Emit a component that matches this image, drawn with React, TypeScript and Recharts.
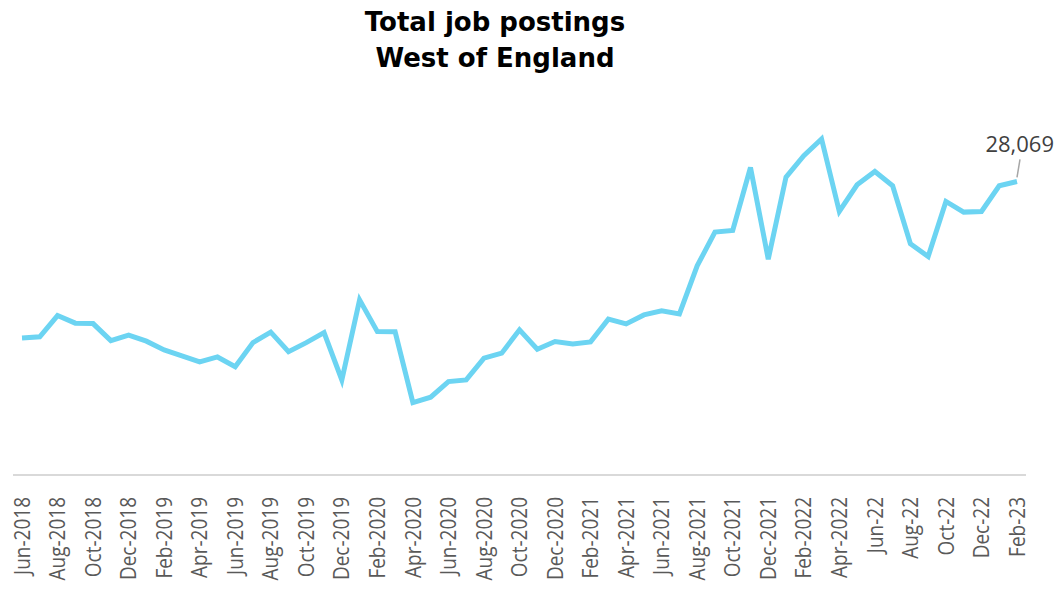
import React from "react";
import { LineChart, Line, XAxis, YAxis } from "recharts";

const months = [
  "Jun-2018", "Jul-2018", "Aug-2018", "Sep-2018", "Oct-2018", "Nov-2018", "Dec-2018",
  "Jan-2019", "Feb-2019", "Mar-2019", "Apr-2019", "May-2019", "Jun-2019", "Jul-2019",
  "Aug-2019", "Sep-2019", "Oct-2019", "Nov-2019", "Dec-2019", "Jan-2020", "Feb-2020",
  "Mar-2020", "Apr-2020", "May-2020", "Jun-2020", "Jul-2020", "Aug-2020", "Sep-2020",
  "Oct-2020", "Nov-2020", "Dec-2020", "Jan-2021", "Feb-2021", "Mar-2021", "Apr-2021",
  "May-2021", "Jun-2021", "Jul-2021", "Aug-2021", "Sep-2021", "Oct-2021", "Nov-2021",
  "Dec-2021", "Jan-2022", "Feb-2022", "Mar-2022", "Apr-2022", "May-2022", "Jun-22",
  "Jul-22", "Aug-22", "Sep-22", "Oct-22", "Nov-22", "Dec-22", "Jan-23", "Feb-23"
];

const postings = [
  13110, 13210, 15250, 14520, 14480, 12850, 13370,
  12800, 11960, 11390, 10810, 11290, 10360, 12660,
  13660, 11800, 12660, 13620, 9090, 16750, 13710,
  13690, 6920, 7440, 8930, 9090, 11170, 11650,
  13880, 12030, 12760, 12540, 12730, 14900, 14450,
  15310, 15700, 15410, 20000, 23230, 23380, 29410,
  20640, 28490, 30530, 32130, 25200, 27750, 29030,
  27660, 22110, 20890, 26160, 25140, 25200, 27660, 28069
];

const data = months.map((m, i) => ({ month: m, postings: postings[i] }));

function MonthTick(props: any) {
  const { x, y, payload } = props;
  return (
    <text
      transform={`translate(${x},${y + 14}) rotate(-90) scale(1,1.12)`}
      textAnchor="end"
      dy="0.36em"
      fill="#595959"
      fontSize={19}
      fontFamily="'Open Sans', sans-serif"
    >
      {payload.value}
    </text>
  );
}

function LastLabel(props: any) {
  const { x, y, index, value } = props;
  if (index !== postings.length - 1) return null;
  return (
    <g>
      <line x1={x} y1={y - 4} x2={x + 3} y2={y - 22} stroke="#a6a6a6" strokeWidth={1.5} />
      <text
        x={x + 37}
        y={y - 29}
        textAnchor="end"
        fill="#404040"
        fontSize={22}
        fontFamily="'Open Sans', sans-serif"
      >
        {Number(value).toLocaleString("en-GB")}
      </text>
    </g>
  );
}

export default function App() {
  return (
    <div style={{ position: "absolute", left: 0, top: 0, width: 1055, height: 590, background: "#fff" }}>
      <div
        style={{
          position: "absolute",
          top: 4,
          left: 0,
          width: 990,
          textAlign: "center",
          fontFamily: "'DejaVu Sans', sans-serif",
          fontWeight: 700,
          fontSize: 26,
          lineHeight: "36px",
          color: "#000"
        }}
      >
        Total job postings
        <br />
        West of England
      </div>
      <LineChart
        width={1055}
        height={590}
        data={data}
        margin={{ top: 109, right: 29, bottom: 0, left: 13 }}
      >
        <XAxis
          dataKey="month"
          interval={1}
          height={115}
          tickLine={false}
          axisLine={{ stroke: "#d9d9d9", strokeWidth: 2 }}
          tick={<MonthTick />}
          padding={{ left: 9, right: 9 }}
        />
        <YAxis hide domain={[0, 35000]} />
        <Line
          type="linear"
          dataKey="postings"
          stroke="#6cd4f2"
          strokeWidth={5}
          dot={false}
          isAnimationActive={false}
          label={<LastLabel />}
        />
      </LineChart>
    </div>
  );
}
